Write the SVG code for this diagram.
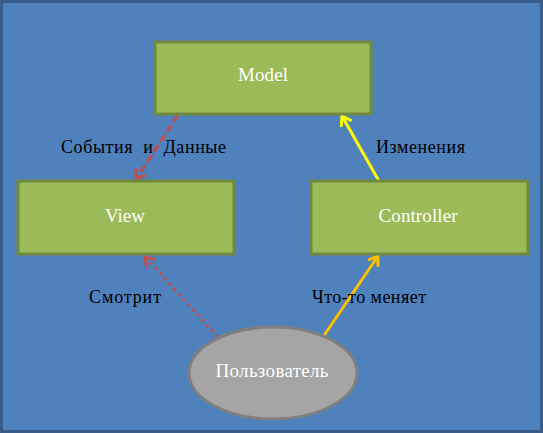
<svg xmlns="http://www.w3.org/2000/svg" width="543" height="433" viewBox="0 0 543 433">
<style>
.box{fill:#9bbb59;stroke:#71893f;stroke-width:3}
.ell{fill:#a5a5a5;stroke:#7f7f7f;stroke-width:3}
.nt{font-family:"Liberation Serif","Times New Roman",serif;font-size:19px;fill:#ffffff;text-anchor:middle}
.lb{font-family:"Liberation Serif","Times New Roman",serif;font-size:18px;fill:#000000}
.c{fill:none;stroke-width:3}
</style>
<defs>
<marker id="aRed" viewBox="-12 -8 14 16" markerWidth="14" markerHeight="16" refX="0" refY="0" orient="auto" markerUnits="userSpaceOnUse"><path d="M-9,-6 L0,0 L-9,6" fill="none" stroke="#c0504d" stroke-width="3"/></marker>
<marker id="aYel" viewBox="-12 -8 14 16" markerWidth="14" markerHeight="16" refX="0" refY="0" orient="auto" markerUnits="userSpaceOnUse"><path d="M-9,-6 L0,0 L-9,6" fill="none" stroke="#ffff00" stroke-width="3"/></marker>
<marker id="aOra" viewBox="-12 -8 14 16" markerWidth="14" markerHeight="16" refX="0" refY="0" orient="auto" markerUnits="userSpaceOnUse"><path d="M-9,-6 L0,0 L-9,6" fill="none" stroke="#ffc000" stroke-width="3"/></marker>
</defs>
<rect x="1.5" y="1.5" width="540" height="430" fill="#4f81bd" stroke="#385d8a" stroke-width="3"/>
<g id="connectors">
<line class="c" x1="178" y1="115" x2="136" y2="179" stroke="#c0504d" stroke-dasharray="8,4" marker-end="url(#aRed)"/>
<line class="c" x1="379" y1="181" x2="342" y2="116" stroke="#ffff00" marker-end="url(#aYel)"/>
<line class="c" x1="218" y1="337" x2="145" y2="257" stroke="#c0504d" stroke-dasharray="3,4" marker-end="url(#aRed)"/>
<line class="c" x1="323" y1="337" x2="378" y2="256" stroke="#ffc000" marker-end="url(#aOra)"/>
</g>
<g id="model"><rect class="box" x="155" y="42" width="216" height="72"/><text class="nt" x="263" y="81" textLength="50" lengthAdjust="spacing">Model</text></g>
<g id="view"><rect class="box" x="18" y="181" width="216" height="73"/><text class="nt" x="125" y="222" textLength="40" lengthAdjust="spacing">View</text></g>
<g id="controller"><rect class="box" x="311" y="181" width="217" height="73"/><text class="nt" x="418" y="222" textLength="79" lengthAdjust="spacing">Controller</text></g>
<g id="user"><ellipse class="ell" cx="273" cy="373" rx="84" ry="46"/><text class="nt" x="272" y="377" textLength="113" lengthAdjust="spacing">Пользователь</text></g>
<g id="labels">
<text class="lb" x="61" y="153" textLength="165" lengthAdjust="spacing" xml:space="preserve">События  и  Данные</text>
<text class="lb" x="376" y="153" textLength="89" lengthAdjust="spacing">Изменения</text>
<text class="lb" x="89" y="303" textLength="72" lengthAdjust="spacing">Смотрит</text>
<text class="lb" x="312" y="303" textLength="114" lengthAdjust="spacing">Что-то меняет</text>
</g>
</svg>
